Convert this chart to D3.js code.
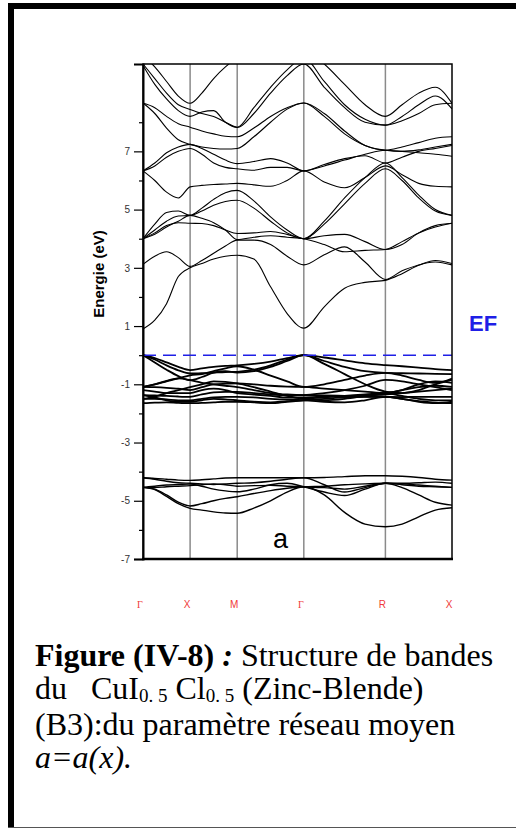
<!DOCTYPE html>
<html><head><meta charset="utf-8">
<script src="https://cdn.jsdelivr.net/npm/d3@7"></script>
<style>
html,body{margin:0;padding:0;background:#fff;}
svg{display:block;}
</style></head>
<body>
<svg id="c" width="516" height="830"></svg>
<script>
// ---- data ----
const kPoints = [0,0.125,0.25,0.375,0.5, 0.625,0.75,0.875,1.0, 1.177,1.354,1.530,1.707, 1.924,2.140,2.357,2.573, 2.750,2.927,3.103,3.280];
const symPositions = [0,0.5,1.0,1.707,2.573,3.280];
const symLabels = ["Γ","X","M","Γ","R","X"];
const majorTicks = [-7,-5,-3,-1,1,3,5,7];
const minorTicks = [-6,-4,-2,0,2,4,6,8];
const fermiLevel = 0;

const dBand1 = [-4.21,-4.23,-4.26,-4.29,-4.3,-4.28,-4.25,-4.22,-4.21,-4.21,-4.21,-4.21,-4.21,-4.2,-4.17,-4.14,-4.14,-4.16,-4.2,-4.26,-4.29];
const dBand2 = [-4.21,-4.26,-4.33,-4.38,-4.4,-4.42,-4.44,-4.42,-4.4,-4.38,-4.33,-4.26,-4.21,-4.45,-4.7,-4.55,-4.4,-4.4,-4.38,-4.36,-4.4];
const dBand3 = [-4.54,-4.5,-4.46,-4.44,-4.43,-4.5,-4.6,-4.66,-4.69,-4.6,-4.45,-4.4,-4.52,-4.7,-4.82,-4.6,-4.4,-4.42,-4.46,-4.5,-4.54];
const dBand4 = [-4.54,-4.6,-4.8,-5.05,-5.18,-5.1,-5.0,-4.92,-4.86,-4.75,-4.65,-4.57,-4.52,-4.5,-4.45,-4.42,-4.4,-4.55,-4.8,-5.05,-5.15];
const dBand5 = [-4.54,-4.62,-4.85,-5.1,-5.26,-5.32,-5.38,-5.42,-5.43,-5.25,-5.0,-4.7,-4.52,-4.8,-5.4,-5.8,-5.89,-5.8,-5.55,-5.32,-5.24];
const dBand6 = [-4.54,-4.55,-4.52,-4.5,-4.48,-4.45,-4.42,-4.45,-4.5,-4.48,-4.47,-4.5,-4.52,-4.55,-4.6,-4.5,-4.4,-4.45,-4.5,-4.52,-4.54];

const vBand1 = [0,-0.1,-0.25,-0.4,-0.51,-0.45,-0.4,-0.37,-0.35,-0.3,-0.22,-0.1,0,-0.08,-0.18,-0.28,-0.34,-0.38,-0.43,-0.48,-0.51];
const vBand2 = [0,-0.15,-0.35,-0.52,-0.63,-0.62,-0.6,-0.58,-0.57,-0.5,-0.35,-0.15,0,-0.3,-0.65,-1.0,-1.25,-1.3,-1.2,-1.0,-0.85];
const vBand3 = [0,-0.25,-0.5,-0.72,-0.86,-0.75,-0.6,-0.55,-0.6,-0.55,-0.4,-0.2,0,-0.2,-0.4,-0.55,-0.61,-0.62,-0.63,-0.64,-0.65];
const vBand4 = [-1.09,-1.0,-0.9,-0.8,-0.69,-0.65,-0.55,-0.45,-0.38,-0.5,-0.7,-0.9,-1.09,-1.0,-0.85,-0.7,-0.61,-0.7,-0.85,-0.95,-0.8];
const vBand5 = [-1.09,-1.1,-1.12,-1.15,-1.2,-1.1,-1.0,-0.98,-0.97,-1.0,-1.05,-1.08,-1.09,-1.15,-1.2,-1.25,-1.3,-1.2,-1.1,-1.05,-1.09];
const vBand6 = [-1.37,-1.38,-1.4,-1.42,-1.43,-1.35,-1.28,-1.26,-1.26,-1.3,-1.35,-1.37,-1.37,-1.38,-1.4,-1.42,-1.43,-1.44,-1.43,-1.43,-1.43];
const vBand7 = [-1.5,-1.5,-1.52,-1.55,-1.55,-1.5,-1.45,-1.43,-1.43,-1.45,-1.5,-1.52,-1.5,-1.45,-1.4,-1.35,-1.3,-1.4,-1.5,-1.55,-1.55];
const vBand8 = [-1.65,-1.63,-1.62,-1.64,-1.65,-1.64,-1.62,-1.6,-1.6,-1.62,-1.65,-1.6,-1.55,-1.5,-1.45,-1.43,-1.43,-1.5,-1.58,-1.63,-1.65];
const vBand9 = [-1.2,-1.25,-1.3,-1.3,-1.3,-1.2,-1.15,-1.2,-1.3,-1.35,-1.4,-1.45,-1.45,-1.42,-1.4,-1.38,-1.35,-1.3,-1.25,-1.2,-1.15];
const vBand10 = [-1.09,-1.0,-0.88,-0.8,-0.86,-0.95,-1.0,-1.05,-1.1,-1.2,-1.3,-1.35,-1.37,-1.3,-1.2,-1.05,-0.85,-0.9,-1.0,-1.1,-1.2];
const vBand11 = [-1.37,-1.45,-1.55,-1.6,-1.6,-1.55,-1.5,-1.52,-1.55,-1.6,-1.62,-1.58,-1.55,-1.6,-1.62,-1.55,-1.43,-1.5,-1.6,-1.65,-1.6];
const vBand12 = [-1.5,-1.42,-1.3,-1.2,-1.1,-1.0,-0.9,-0.92,-0.97,-1.1,-1.25,-1.4,-1.5,-1.55,-1.5,-1.4,-1.3,-1.2,-1.0,-0.9,-0.95];

const cBand1 = [0.9,1.2,1.77,2.7,3.0,3.15,3.3,3.4,3.43,3.3,2.35,1.43,0.93,1.66,2.3,2.5,2.57,2.8,3.09,3.2,3.1];
const cBand2 = [3.12,3.4,3.55,3.35,3.05,3.25,3.5,3.75,3.95,3.95,3.8,3.4,3.1,3.45,3.72,3.2,2.6,2.9,3.1,3.25,3.15];
const cBand3 = [4.0,4.2,4.45,4.55,4.53,4.52,4.45,4.3,4.18,4.2,4.25,4.15,4.0,4.1,4.15,3.9,3.63,3.8,4.2,4.45,4.53];
const cBand4 = [4.0,4.5,4.9,4.95,4.8,4.95,5.15,5.28,5.32,5.05,4.6,4.2,4.0,4.5,5.2,5.9,6.4,6.0,5.4,4.95,4.8];
const cBand5 = [4.0,4.3,4.6,4.78,4.8,5.05,5.35,5.58,5.66,5.3,4.75,4.3,4.0,4.6,5.4,6.1,6.6,6.1,5.5,5.0,4.8];
const cBand6 = [6.33,6.0,5.6,5.4,5.78,5.83,5.86,5.88,5.9,5.85,5.8,6.0,6.33,5.95,5.75,6.1,6.5,6.2,5.9,5.8,5.78];
const cBand7 = [6.33,6.6,6.95,7.15,7.24,7.1,6.9,6.7,6.58,6.65,6.75,6.6,6.33,6.55,6.75,6.85,6.6,6.8,7.0,7.1,7.2];
const cBand8 = [8.66,8.5,8.2,7.95,7.83,7.7,7.6,7.52,7.5,7.8,8.2,8.5,8.66,8.2,7.6,7.2,7.04,7.15,7.3,7.45,7.5];
const cBand9 = [9.95,9.3,8.8,8.4,8.2,8.35,8.4,8.0,7.82,8.3,9.0,9.6,10.0,9.2,8.5,8.0,7.9,8.05,8.3,8.6,8.65];
const cBand10 = [10.0,9.5,9.0,8.6,8.44,8.3,8.2,8.0,7.83,8.5,9.2,9.8,10.2,9.4,8.6,8.1,7.9,8.2,8.6,8.9,8.46];
const cBand11 = [10.3,9.9,9.4,8.9,8.65,9.0,9.5,9.9,10.2,10.3,10.2,10.3,10.5,10.0,9.3,8.6,8.2,8.6,9.0,9.2,8.65];
const cBand12 = [8.66,8.3,7.8,7.4,7.24,7.15,7.1,7.08,7.1,7.5,8.0,8.45,8.66,8.3,7.7,7.2,7.04,7.0,7.05,7.15,7.24];
const cBand13 = [6.33,6.5,6.8,7.0,7.1,6.9,6.6,6.45,6.4,6.35,6.45,6.45,6.33,6.5,6.7,6.9,7.04,7.0,6.95,6.9,6.83];
const cBand14 = [4.0,4.15,4.4,4.6,4.8,4.7,4.55,4.3,3.97,4.05,4.1,4.05,4.0,3.8,3.55,3.6,3.63,3.9,4.2,4.4,4.53];

const valenceBands = [vBand1,vBand2,vBand3,vBand4,vBand5,vBand6,vBand7,vBand8,vBand9,vBand10,vBand11,vBand12];
const dBands = [dBand1,dBand2,dBand3,dBand4,dBand5,dBand6];
const conductionBands = [cBand1,cBand2,cBand3,cBand4,cBand5,cBand6,cBand7,cBand8,cBand9,cBand10,cBand11,cBand12,cBand13,cBand14];

// ---- drawing ----
const svg = d3.select("#c");
svg.append("rect").attr("x",8).attr("y",3).attr("width",510).attr("height",6).attr("fill","#000");
svg.append("rect").attr("x",8).attr("y",3).attr("width",6).attr("height",825).attr("fill","#000");
svg.append("line").attr("x1",8).attr("x2",516).attr("y1",827.5).attr("y2",827.5).attr("stroke","#555").attr("stroke-width",1);

const x = d3.scaleLinear().domain([0,3.280]).range([143,452]);
const y = d3.scaleLinear().domain([-7,10]).range([559,64]);

svg.append("clipPath").attr("id","clip").append("rect")
  .attr("x",143).attr("y",64).attr("width",309).attr("height",495);

svg.append("g").selectAll("line").data(symPositions.slice(1,-1)).join("line")
  .attr("x1",d=>x(d)).attr("x2",d=>x(d)).attr("y1",y(10)).attr("y2",y(-7))
  .attr("stroke","#8a8a8a").attr("stroke-width",1.5);

const line = d3.line().x((d,i)=>x(kPoints[i])).y(d=>y(d)).curve(d3.curveMonotoneX);
const gb = svg.append("g").attr("clip-path","url(#clip)").attr("fill","none").attr("stroke","#000");
gb.selectAll("path.c").data(conductionBands).join("path").attr("class","c").attr("d",line).attr("stroke-width",1.1);
gb.selectAll("path.v").data(valenceBands).join("path").attr("class","v").attr("d",line).attr("stroke-width",1.8);
gb.selectAll("path.d").data(dBands).join("path").attr("class","d").attr("d",line).attr("stroke-width",1.4);

svg.append("line").attr("x1",x(0)).attr("x2",x(3.280)).attr("y1",y(fermiLevel)).attr("y2",y(fermiLevel))
  .attr("stroke","#1f1fe6").attr("stroke-width",1.5).attr("stroke-dasharray","13,7");

svg.append("rect").attr("x",143).attr("y",64).attr("width",309).attr("height",495)
  .attr("fill","none").attr("stroke","#000").attr("stroke-width",1.5);
svg.append("line").attr("x1",142).attr("x2",453).attr("y1",559).attr("y2",559).attr("stroke","#000").attr("stroke-width",2.5);

const yAxis = d3.axisLeft(y).tickValues(majorTicks).tickSize(9).tickPadding(4).tickFormat(d=>String(d));
const ga = svg.append("g").attr("transform","translate(143,0)").call(yAxis);
ga.select(".domain").attr("stroke","#000").attr("stroke-width",2);
ga.selectAll(".tick line").attr("stroke","#000").attr("stroke-width",1.2);
ga.selectAll(".tick text").attr("font-family","Arial, 'Liberation Sans', sans-serif").attr("font-size",10).attr("fill","#333");
const gm = svg.append("g").attr("transform","translate(143,0)").call(d3.axisLeft(y).tickValues(minorTicks).tickSize(4).tickFormat(""));
gm.select(".domain").remove();
gm.selectAll(".tick line").attr("stroke","#000").attr("stroke-width",1.2);

svg.append("text").attr("transform","translate(104,274) rotate(-90)")
  .attr("text-anchor","middle").attr("font-family","Arial, 'Liberation Sans', sans-serif")
  .attr("font-weight","bold").attr("font-size",15).text("Energie (eV)");

svg.append("text").attr("x",469).attr("y",331).attr("font-family","Arial, 'Liberation Sans', sans-serif")
  .attr("font-weight","bold").attr("font-size",22).attr("fill","#1f1fe6").text("EF");

svg.append("text").attr("x",273).attr("y",548).attr("font-family","Arial, 'Liberation Sans', sans-serif")
  .attr("font-size",27).attr("fill","#000").text("a");

svg.append("g").selectAll("text").data(symLabels).join("text")
  .attr("x",(d,i)=>x(symPositions[i])-3).attr("y",608)
  .attr("text-anchor","middle").attr("font-family",(d)=>d==="Γ"?"'Liberation Serif', serif":"Arial, 'Liberation Sans', sans-serif")
  .attr("font-size",10).attr("fill","#f03a3a").text(d=>d);

const cap = svg.append("g").attr("font-family","'Liberation Serif','Times New Roman',serif").attr("font-size",32).attr("fill","#000");
const l1 = cap.append("text").attr("x",35).attr("y",666);
l1.append("tspan").attr("font-weight","bold").text("Figure (IV-8) ");
l1.append("tspan").attr("font-weight","bold").attr("font-style","italic").text(":");
l1.append("tspan").text(" Structure de bandes");
const l2 = cap.append("text").attr("x",35).attr("y",699).attr("xml:space","preserve");
l2.append("tspan").text("du   CuI");
l2.append("tspan").attr("font-size",19).attr("dy",3).text("0. 5");
l2.append("tspan").attr("dy",-3).text(" Cl");
l2.append("tspan").attr("font-size",19).attr("dy",3).text("0. 5");
l2.append("tspan").attr("dy",-3).text(" (Zinc-Blende)");
cap.append("text").attr("x",35).attr("y",735).text("(B3):du paramètre réseau moyen");
cap.append("text").attr("x",35).attr("y",768).attr("font-style","italic").text("a=a(x).");
</script>
</body></html>
